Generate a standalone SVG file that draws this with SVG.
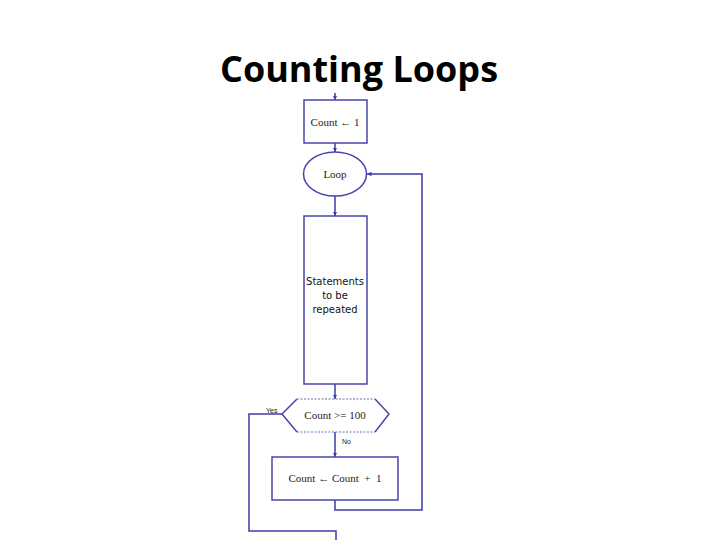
<svg xmlns="http://www.w3.org/2000/svg" width="720" height="540" viewBox="0 0 720 540">
<defs>
<marker id="ah" viewBox="0 0 6 6" refX="6" refY="3" markerWidth="4.5" markerHeight="4.5" markerUnits="userSpaceOnUse" orient="auto">
<path d="M0,0 L6,3 L0,6 z" fill="#3c3ca8"/>
</marker>
<style>
.n{fill:#fff;stroke:#4646aa;stroke-width:1.5}
.c{fill:none;stroke:#3c3ca8;stroke-width:1.5}
.t{font-family:"Liberation Serif","DejaVu Serif",serif;font-size:11px;fill:#222;text-anchor:middle}
.s{font-family:"DejaVu Sans","Liberation Sans",sans-serif;font-size:10px;fill:#111;text-anchor:middle}
.l{font-family:"Liberation Sans",Arial,sans-serif;font-size:7px;fill:#222}
</style>
</defs>
<rect width="720" height="540" fill="#fff"/>
<text x="359" y="82" font-family="'Open Sans','Liberation Sans',sans-serif" font-weight="bold" font-size="36" text-anchor="middle" fill="#000">Counting Loops</text>
<g id="connectors">
<line class="c" x1="335" y1="93" x2="335" y2="100" marker-end="url(#ah)"/>
<line class="c" x1="335" y1="143" x2="335" y2="152" marker-end="url(#ah)"/>
<line class="c" x1="335" y1="196" x2="335" y2="216" marker-end="url(#ah)"/>
<line class="c" x1="335" y1="384" x2="335" y2="399" marker-end="url(#ah)"/>
<line class="c" x1="335" y1="432" x2="335" y2="457" marker-end="url(#ah)"/>
<polyline class="c" points="335,500 335,510 422,510 422,174 367,174" marker-end="url(#ah)"/>
<polyline class="c" points="282,414 249,414 249,531 336,531 336,540"/>
<text class="l" x="266" y="413">Yes</text>
<text class="l" x="342" y="444">No</text>
</g>
<g id="init">
<rect class="n" x="304" y="100" width="63" height="43"/>
<text class="t" x="335" y="126">Count ← 1</text>
</g>
<g id="loop">
<ellipse class="n" cx="335" cy="174" rx="31.5" ry="22"/>
<text class="t" x="335" y="178">Loop</text>
</g>
<g id="statements">
<rect class="n" x="304" y="216" width="63" height="168"/>
<text class="s" x="335" y="285">Statements</text>
<text class="s" x="335" y="299">to be</text>
<text class="s" x="335" y="313">repeated</text>
</g>
<g id="decision">
<path d="M282,414 L297,399 M375,399 L389,414 L375,432 M297,432 L282,414" fill="none" stroke="#4646aa" stroke-width="1.5"/>
<line x1="297" y1="399" x2="375" y2="399" stroke="#6a6ab8" stroke-width="1" stroke-dasharray="2,1.5"/>
<line x1="297" y1="432" x2="375" y2="432" stroke="#6a6ab8" stroke-width="1" stroke-dasharray="2,1.5"/>
<text class="t" x="335" y="419">Count &gt;= 100</text>
</g>
<g id="increment">
<rect class="n" x="272" y="457" width="126" height="43"/>
<text class="t" x="335" y="482">Count ← Count&#160;&#160;+&#160;&#160;1</text>
</g>
</svg>
